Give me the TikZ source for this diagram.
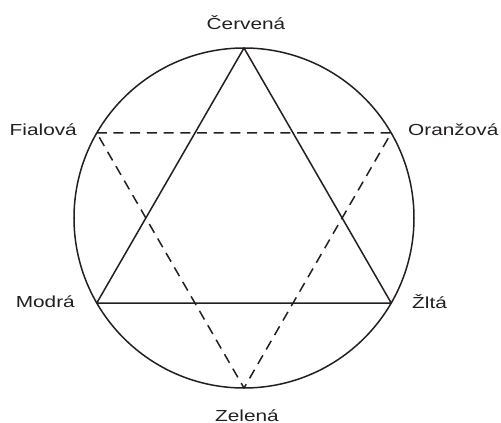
\documentclass[tikz,border=0pt]{standalone}
\usepackage{fontspec}
\setmainfont{Liberation Sans}
\usepackage{graphicx}

\definecolor{ink}{HTML}{231F20}

\newcommand{\wide}[1]{\scalebox{1.3}[1]{#1}}

\begin{document}
\begin{tikzpicture}[
  x=1pt, y=1pt,
  line join=round,
  edge/.style={draw=ink, line width=1.5pt},
  dash_/.style={draw=ink, line width=1.5pt, dash pattern=on 10pt off 6.7pt},
  lbl/.style={font=\fontsize{16}{18}\selectfont, text=ink, inner sep=0pt},
]
\useasboundingbox (-244,-205) rectangle (257,218);

% ── the colour wheel ──────────────────────────────────────────────────────
\draw[edge] (0,0) circle (170);

% the six colours sit every sixty degrees round it
\coordinate (cerv) at (90:170);
\coordinate (oran) at (30:170);
\coordinate (zlta) at (-30:170);
\coordinate (zele) at (-90:170);
\coordinate (modr) at (-150:170);
\coordinate (fial) at (150:170);

% ── primaries, solid; secondaries, dashed ─────────────────────────────────
\draw[edge] (cerv) -- (zlta) -- (modr) -- cycle;
\draw[dash_] (fial) -- (oran) -- (zele) -- cycle;

% ── the names ─────────────────────────────────────────────────────────────
\node[lbl, anchor=base]      (tcerv) at (2,188)    {\wide{Červená}};
\node[lbl, anchor=base west] (toran) at (164,82)   {\wide{Oranžová}};
\node[lbl, anchor=base west] (tzlta) at (168,-90)  {\wide{Žltá}};
\node[lbl, anchor=base]      (tzele) at (3,-203)   {\wide{Zelená}};
\node[lbl, anchor=base east] (tmodr) at (-169,-89) {\wide{Modrá}};
\node[lbl, anchor=base east] (tfial) at (-167,82)  {\wide{Fialová}};

\end{tikzpicture}
\end{document}
